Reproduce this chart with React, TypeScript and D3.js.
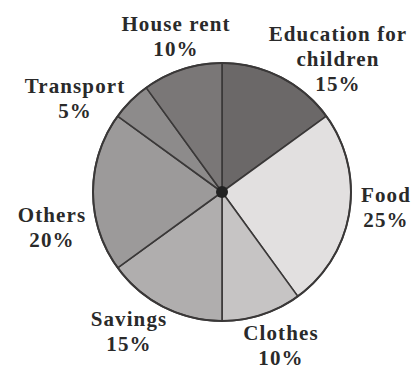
import React from "react";
import * as d3 from "d3";

const categories = ["Education for children", "Food", "Clothes", "Savings", "Others", "Transport", "House rent"];
const values = [15, 25, 10, 15, 20, 5, 10];
const labelLines = [
  ["Education for", "children", "15%"],
  ["Food", "25%"],
  ["Clothes", "10%"],
  ["Savings", "15%"],
  ["Others", "20%"],
  ["Transport", "5%"],
  ["House rent", "10%"],
];

const palette = ["#6b6868", "#e2e0e0", "#c6c4c4", "#b0aeae", "#9c9a9a", "#8d8b8b", "#7a7777"];
// label anchor (center x, first baseline y) in pixels
const labelLayout = [
  [338, 41],
  [386, 202],
  [281, 340],
  [129, 326],
  [52, 222],
  [75, 93],
  [176, 31],
];

const W = 416, H = 370;
const cx = 222, cy = 192, R = 129;
const lineGap = 25;

export default function App() {
  const data = categories.map((c, i) => ({ c, v: values[i], i }));
  const pie = d3.pie<any>().value((d) => d.v).sort(null).startAngle(0).endAngle(2 * Math.PI);
  const arcs = pie(data);
  const arcGen = d3.arc<any>().innerRadius(0).outerRadius(R);
  return (
    <svg width={W} height={H} style={{ position: "absolute", left: 0, top: 0, background: "#fff" }}>
      <g transform={`translate(${cx},${cy})`}>
        {arcs.map((a, i) => (
          <path key={i} d={arcGen(a) as string} fill={palette[i]} stroke="#3a3838" strokeWidth={1.6} strokeLinejoin="round" />
        ))}
        <circle r={R} fill="none" stroke="#3a3838" strokeWidth={2} />
        <circle r={6} fill="#222" />
      </g>
      {labelLines.map((lines, i) => (
        <text
          key={i}
          textAnchor="middle"
          style={{ fontFamily: '"Liberation Serif", "Times New Roman", serif', fontWeight: 700, fontSize: "21px", letterSpacing: "1.1px" }}
          fill="#2a2a2a"
        >
          {lines.map((ln, j) => (
            <tspan key={j} x={labelLayout[i][0]} y={labelLayout[i][1] + j * lineGap}>{ln}</tspan>
          ))}
        </text>
      ))}
    </svg>
  );
}
